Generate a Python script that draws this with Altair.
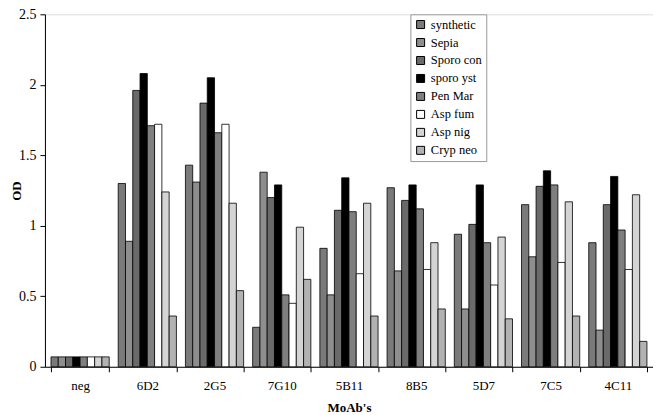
import altair as alt
import pandas as pd

categories = ["neg", "6D2", "2G5", "7G10", "5B11", "8B5", "5D7", "7C5", "4C11"]
series = ["synthetic", "Sepia", "Sporo con", "sporo yst", "Pen Mar", "Asp fum", "Asp nig", "Cryp neo"]

values = {
    "synthetic": [0.07, 1.30, 1.43, 0.28, 0.84, 1.27, 0.94, 1.15, 0.88],
    "Sepia":     [0.07, 0.89, 1.31, 1.38, 0.51, 0.68, 0.41, 0.78, 0.26],
    "Sporo con": [0.07, 1.96, 1.87, 1.20, 1.11, 1.18, 1.01, 1.28, 1.15],
    "sporo yst": [0.07, 2.08, 2.05, 1.29, 1.34, 1.29, 1.29, 1.39, 1.35],
    "Pen Mar":   [0.07, 1.71, 1.66, 0.51, 1.10, 1.12, 0.88, 1.29, 0.97],
    "Asp fum":   [0.07, 1.72, 1.72, 0.45, 0.66, 0.69, 0.58, 0.74, 0.69],
    "Asp nig":   [0.07, 1.24, 1.16, 0.99, 1.16, 0.88, 0.92, 1.17, 1.22],
    "Cryp neo":  [0.07, 0.36, 0.54, 0.62, 0.36, 0.41, 0.34, 0.36, 0.18],
}

fills = ["#7a7a7a", "#8e8e8e", "#6a6a6a", "#000000", "#7f7f7f", "#ffffff", "#d4d4d4", "#b2b2b2"]

rows = []
for s in series:
    for c, v in zip(categories, values[s]):
        rows.append({"MoAb": c, "series": s, "OD": v})
df = pd.DataFrame(rows)

FONT = "Liberation Serif"

chart = alt.Chart(df).mark_bar(stroke="black", strokeWidth=0.8).encode(
    x=alt.X("MoAb:N", sort=categories, title="MoAb's",
            scale=alt.Scale(paddingInner=0.134, paddingOuter=0.09),
            axis=alt.Axis(labelAngle=0, tickBand="extent", tickSize=5, labelPadding=8,
                          titlePadding=9, domainColor="black", tickColor="black",
                          labelFont=FONT, labelFontSize=13, labelColor="black",
                          titleFont=FONT, titleFontSize=13, titleColor="black",
                          titleFontWeight="bold", grid=False)),
    xOffset=alt.XOffset("series:N", sort=series),
    y=alt.Y("OD:Q", title="OD", scale=alt.Scale(domain=[0, 2.5], nice=False),
            axis=alt.Axis(values=[0, 0.5, 1, 1.5, 2, 2.5], format="~g", tickSize=5,
                          labelPadding=4, domainColor="black", tickColor="black",
                          labelFont=FONT, labelFontSize=14, labelColor="black",
                          titleFont=FONT, titleFontSize=13, titleColor="black",
                          titleFontWeight="bold", titleX=-21, grid=False)),
    fill=alt.Fill("series:N", sort=series,
                  scale=alt.Scale(domain=series, range=fills),
                  legend=alt.Legend(title=None, orient="none", legendX=366, legendY=0,
                                    symbolType="square", symbolSize=64,
                                    symbolStrokeColor="black", symbolStrokeWidth=1,
                                    labelFont=FONT, labelFontSize=12.5, labelColor="black",
                                    rowPadding=5, padding=4, strokeColor="#999",
                                    fillColor="white", labelLimit=200)),
).properties(
    width=609, height=353,
    autosize=alt.AutoSizeParams(type="none"),
    padding={"left": 37, "top": 6, "right": 0, "bottom": 48},
).configure_view(
    stroke="#888", strokeWidth=1
).configure(background="white")

chart.save("out.html", embed_options={"renderer": "svg", "actions": False})
